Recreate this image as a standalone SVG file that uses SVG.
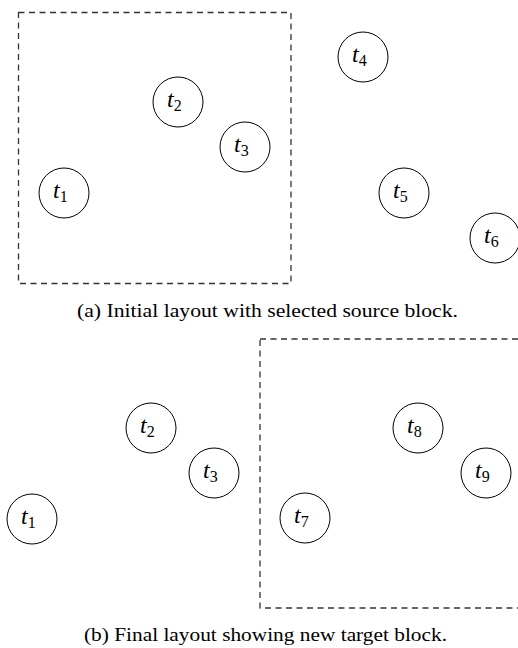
<svg xmlns="http://www.w3.org/2000/svg" width="518" height="648" viewBox="0 0 518 648">
<style>
.n circle{fill:#fff;stroke:#000;stroke-width:1}
.lb{font-family:"Liberation Serif",serif;font-size:24px;font-style:italic;fill:#000}
.sb{font-style:normal;font-size:16px}
.blk{fill:none;stroke:#333;stroke-width:1.3;stroke-dasharray:6 4.5}
.cap{font-family:"Liberation Serif",serif;font-size:19px;fill:#000}
</style>
<rect width="518" height="648" fill="#fff"/>
<g id="connectors"></g>
<rect id="source-block" class="blk" x="18.5" y="12.5" width="272.5" height="271"/>
<g id="a-t1" class="n"><circle cx="64" cy="193" r="25"/><text class="lb" x="53" y="198">t<tspan class="sb" dy="4">1</tspan></text></g>
<g id="a-t2" class="n"><circle cx="178" cy="102" r="25"/><text class="lb" x="167" y="107">t<tspan class="sb" dy="4">2</tspan></text></g>
<g id="a-t3" class="n"><circle cx="245" cy="147" r="25"/><text class="lb" x="234" y="152">t<tspan class="sb" dy="4">3</tspan></text></g>
<g id="a-t4" class="n"><circle cx="363" cy="57" r="25"/><text class="lb" x="352" y="62">t<tspan class="sb" dy="4">4</tspan></text></g>
<g id="a-t5" class="n"><circle cx="404" cy="193" r="25"/><text class="lb" x="393" y="198">t<tspan class="sb" dy="4">5</tspan></text></g>
<g id="a-t6" class="n"><circle cx="495" cy="238" r="25"/><text class="lb" x="484" y="243">t<tspan class="sb" dy="4">6</tspan></text></g>
<text class="cap" x="77" y="317" textLength="381" lengthAdjust="spacingAndGlyphs">(a)  Initial layout with selected source block.</text>
<rect id="target-block" class="blk" x="260" y="339" width="270" height="269"/>
<g id="b-t1" class="n"><circle cx="32" cy="519" r="25"/><text class="lb" x="21" y="524">t<tspan class="sb" dy="4">1</tspan></text></g>
<g id="b-t2" class="n"><circle cx="151" cy="428" r="25"/><text class="lb" x="140" y="433">t<tspan class="sb" dy="4">2</tspan></text></g>
<g id="b-t3" class="n"><circle cx="214" cy="473" r="25"/><text class="lb" x="203" y="478">t<tspan class="sb" dy="4">3</tspan></text></g>
<g id="b-t7" class="n"><circle cx="305" cy="518" r="25"/><text class="lb" x="294" y="523">t<tspan class="sb" dy="4">7</tspan></text></g>
<g id="b-t8" class="n"><circle cx="418" cy="428" r="25"/><text class="lb" x="407" y="433">t<tspan class="sb" dy="4">8</tspan></text></g>
<g id="b-t9" class="n"><circle cx="486" cy="473" r="25"/><text class="lb" x="475" y="478">t<tspan class="sb" dy="4">9</tspan></text></g>
<text class="cap" x="84" y="641" textLength="363" lengthAdjust="spacingAndGlyphs">(b)  Final layout showing new target block.</text>
</svg>
